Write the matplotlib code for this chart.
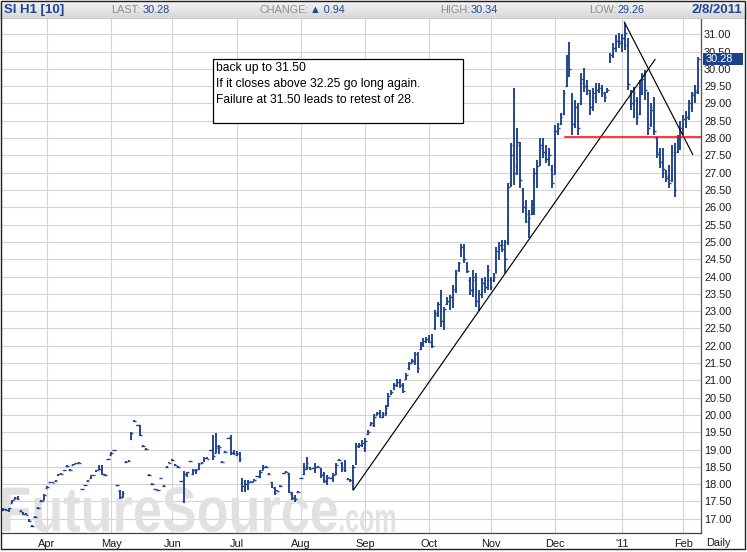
import numpy as np
import pandas as pd
import matplotlib
matplotlib.use("Agg")
import matplotlib.pyplot as plt
from matplotlib.patches import Rectangle, PathPatch
from matplotlib.textpath import TextPath
from matplotlib.font_manager import FontProperties
from matplotlib.colors import LinearSegmentedColormap
from matplotlib.ticker import FormatStrFormatter
from matplotlib.transforms import Affine2D, IdentityTransform, blended_transform_factory

plt.rcParams['font.family'] = ['Liberation Sans', 'DejaVu Sans']

W, H = 747, 552

# daily bars, SI H1 (silver March 2011)
dates = pd.bdate_range('2010-03-11', '2011-02-08')

opens = [
    17.25, 17.28, 17.25, 17.45, 17.58, 17.60, 17.22, 17.18, 17.15, 16.95,
    16.80, 17.05, 17.30, 17.50, 17.55, 17.90, 18.05, 18.05, 18.10, 18.25,
    18.30, 18.40, 18.52, 18.42, 18.55, 18.60, 18.62, 17.85, 17.96, 18.10,
    18.18, 18.25, 18.38, 18.40, 18.50, 18.27, 18.72, 18.85, 18.98, 17.97,
    17.80, 17.62, 18.63, 18.68, 19.30, 19.82, 19.70, 19.70, 19.10, 19.01,
    18.26, 18.00, 17.86, 17.82, 18.17, 17.94, 18.50, 18.62, 18.70, 18.55,
    18.50, 18.09, 17.50, 18.30, 18.66, 18.30, 18.40, 18.45, 18.62, 18.68,
    18.75, 18.98, 19.00, 18.90, 19.05, 18.65, 18.94, 19.32, 19.35, 18.92,
    18.85, 18.88, 18.05, 17.85, 17.90, 18.07, 18.10, 18.22, 18.20, 18.42,
    18.50, 18.30, 18.05, 17.90, 17.80, 17.95, 18.31, 18.36, 18.30, 17.72,
    17.62, 17.78, 18.17, 18.30, 18.50, 18.50, 18.46, 18.45, 18.50, 18.40,
    18.30, 18.12, 18.17, 18.20, 18.30, 18.70, 18.60, 18.50, 18.14, 18.10,
    17.90, 18.60, 19.10, 19.12, 19.05, 19.45, 19.72, 19.70, 20.00, 20.05,
    19.95, 20.00, 20.30, 20.60, 20.75, 20.85, 20.95, 20.85, 21.05, 21.35,
    21.50, 21.60, 21.75, 21.90, 22.05, 22.10, 22.20, 22.10, 22.50, 22.90,
    23.20, 22.70, 23.20, 23.30, 23.40, 23.60, 24.20, 24.60, 24.85, 24.40,
    23.90, 23.60, 23.90, 23.30, 23.50, 23.80, 23.70, 23.90, 23.90, 24.10,
    24.70, 24.90, 24.90, 25.00, 26.70, 27.80, 27.20, 27.80, 26.50, 26.00,
    25.60, 25.80, 25.90, 27.00, 27.30, 27.70, 27.60, 27.40, 27.10, 26.95,
    28.20, 28.40, 28.70, 29.50, 30.20, 29.20, 28.40, 28.90, 29.00, 29.60,
    29.50, 29.30, 28.90, 29.20, 29.40, 29.45, 29.30, 29.35, 30.20, 30.40,
    30.60, 30.80, 30.80, 30.90, 30.70, 29.20, 29.00, 29.10, 28.70, 29.50,
    29.60, 29.30, 28.40, 28.90, 28.00, 27.60, 27.30, 27.00, 26.90, 26.80,
    27.50, 27.60, 27.80, 28.20, 28.50, 28.60, 28.90, 29.30, 29.40,
]

highs = [
    17.30, 17.28, 17.30, 17.55, 17.62, 17.65, 17.24, 17.20, 17.16, 16.98,
    16.82, 17.08, 17.35, 17.55, 17.70, 17.95, 18.06, 18.06, 18.12, 18.30,
    18.32, 18.42, 18.55, 18.44, 18.58, 18.62, 18.64, 17.87, 17.98, 18.12,
    18.27, 18.27, 18.42, 18.55, 18.56, 18.28, 18.74, 18.92, 19.00, 17.98,
    17.84, 17.80, 18.66, 18.70, 19.52, 19.84, 19.72, 19.71, 19.12, 19.03,
    18.28, 18.02, 17.87, 17.84, 18.19, 17.96, 18.52, 18.64, 18.72, 18.57,
    18.52, 18.10, 18.38, 18.36, 18.68, 18.43, 18.45, 18.60, 18.64, 18.77,
    18.77, 19.00, 19.42, 19.49, 19.12, 18.67, 18.96, 19.34, 19.42, 18.98,
    18.95, 18.94, 18.17, 18.12, 18.12, 18.08, 18.14, 18.24, 18.41, 18.55,
    18.52, 18.33, 18.07, 17.93, 17.82, 17.96, 18.33, 18.38, 18.31, 17.78,
    17.69, 17.80, 18.19, 18.60, 18.79, 18.50, 18.48, 18.62, 18.52, 18.46,
    18.36, 18.26, 18.19, 18.31, 18.60, 18.72, 18.65, 18.70, 18.17, 18.15,
    18.55, 19.18, 19.18, 19.27, 19.32, 19.56, 19.80, 20.04, 20.09, 20.14,
    20.09, 20.28, 20.62, 20.72, 20.91, 21.05, 21.05, 20.91, 21.20, 21.54,
    21.63, 21.83, 21.83, 22.11, 22.21, 22.26, 22.31, 22.35, 23.03, 23.27,
    23.61, 23.13, 23.41, 23.46, 23.75, 24.18, 24.43, 24.95, 24.95, 24.43,
    24.00, 24.18, 24.09, 23.61, 23.95, 24.00, 24.33, 23.99, 24.09, 24.86,
    25.01, 25.06, 25.06, 26.69, 27.85, 29.44, 28.28, 27.90, 26.55, 26.21,
    25.92, 26.21, 27.13, 27.37, 27.99, 27.99, 27.80, 27.70, 27.22, 28.38,
    28.45, 28.72, 29.39, 30.40, 30.79, 29.30, 29.10, 29.00, 29.87, 30.02,
    29.68, 29.39, 29.44, 29.58, 29.58, 29.53, 29.34, 29.44, 30.45, 30.74,
    30.98, 31.03, 31.00, 31.32, 30.90, 29.39, 29.49, 29.20, 29.68, 29.87,
    29.97, 29.34, 29.00, 29.20, 28.04, 27.70, 27.70, 27.08, 27.22, 27.80,
    27.85, 28.09, 28.48, 28.67, 28.77, 29.10, 29.34, 29.53, 30.34,
]

lows = [
    17.22, 17.22, 17.20, 17.45, 17.56, 17.55, 17.18, 17.12, 17.10, 16.90,
    16.76, 17.02, 17.28, 17.48, 17.54, 17.88, 18.02, 18.03, 18.08, 18.24,
    18.28, 18.38, 18.50, 18.40, 18.54, 18.58, 18.60, 17.83, 17.94, 18.08,
    18.16, 18.24, 18.36, 18.40, 18.26, 18.24, 18.70, 18.84, 18.96, 17.95,
    17.58, 17.60, 18.62, 18.66, 19.27, 19.80, 19.68, 19.39, 19.08, 18.99,
    18.24, 17.98, 17.83, 17.80, 18.15, 17.92, 18.48, 18.60, 18.68, 18.53,
    18.48, 18.07, 17.44, 18.21, 18.64, 18.26, 18.30, 18.41, 18.60, 18.65,
    18.72, 18.96, 18.70, 18.89, 18.88, 18.63, 18.92, 19.30, 18.84, 18.85,
    18.80, 18.65, 17.78, 17.78, 17.83, 18.05, 18.08, 18.20, 18.17, 18.41,
    18.48, 18.25, 17.88, 17.69, 17.79, 17.93, 18.29, 18.34, 17.74, 17.54,
    17.49, 17.76, 18.15, 18.26, 18.41, 18.41, 18.44, 18.31, 18.48, 18.17,
    18.02, 17.98, 18.15, 18.07, 18.26, 18.68, 18.36, 18.36, 18.12, 18.05,
    17.83, 18.55, 19.03, 19.08, 18.94, 19.42, 19.71, 19.66, 19.99, 19.90,
    19.90, 19.99, 20.24, 20.57, 20.72, 20.81, 20.77, 20.62, 21.01, 21.30,
    21.49, 21.44, 21.20, 21.87, 21.97, 22.07, 22.07, 21.92, 22.45, 22.84,
    22.55, 22.45, 23.17, 23.03, 23.08, 23.51, 24.14, 24.57, 24.38, 24.09,
    23.46, 23.41, 23.13, 22.99, 23.37, 23.52, 23.61, 23.61, 23.85, 24.09,
    24.48, 24.72, 24.10, 24.90, 26.60, 26.65, 26.93, 26.55, 25.83, 25.54,
    25.10, 25.78, 25.78, 26.55, 27.18, 27.42, 27.27, 27.18, 26.55, 26.95,
    28.10, 28.38, 28.67, 29.49, 29.78, 28.09, 28.28, 28.09, 28.96, 29.34,
    29.25, 28.67, 28.77, 29.00, 29.30, 29.20, 29.05, 29.30, 30.16, 30.31,
    30.50, 30.60, 30.50, 30.55, 29.40, 28.81, 28.57, 28.38, 28.67, 29.25,
    29.10, 28.09, 28.33, 28.09, 27.42, 27.13, 26.84, 26.74, 26.55, 26.74,
    26.31, 27.56, 27.66, 28.09, 28.28, 28.52, 28.76, 29.00, 29.26,
]

closes = [
    17.28, 17.25, 17.30, 17.55, 17.60, 17.58, 17.20, 17.15, 17.12, 16.92,
    16.79, 17.06, 17.32, 17.52, 17.68, 17.92, 18.05, 18.04, 18.10, 18.29,
    18.30, 18.40, 18.53, 18.41, 18.57, 18.60, 18.62, 17.85, 17.97, 18.10,
    18.25, 18.26, 18.40, 18.45, 18.30, 18.26, 18.72, 18.90, 18.99, 17.96,
    17.62, 17.75, 18.64, 18.68, 19.48, 19.82, 19.70, 19.42, 19.10, 19.01,
    18.26, 18.00, 17.85, 17.82, 18.17, 17.94, 18.50, 18.62, 18.70, 18.55,
    18.50, 18.09, 18.30, 18.34, 18.67, 18.40, 18.42, 18.58, 18.62, 18.75,
    18.74, 18.98, 18.80, 19.10, 19.08, 18.65, 18.94, 19.32, 18.90, 18.90,
    18.90, 18.72, 17.95, 18.00, 18.05, 18.07, 18.12, 18.22, 18.35, 18.50,
    18.50, 18.28, 17.92, 17.75, 17.81, 17.95, 18.31, 18.36, 17.78, 17.60,
    17.58, 17.78, 18.17, 18.45, 18.60, 18.45, 18.46, 18.50, 18.50, 18.25,
    18.10, 18.20, 18.17, 18.25, 18.55, 18.70, 18.45, 18.40, 18.15, 18.12,
    18.50, 19.10, 19.12, 19.20, 19.25, 19.50, 19.76, 19.95, 20.05, 19.95,
    20.05, 20.20, 20.55, 20.65, 20.85, 20.95, 20.85, 20.70, 21.15, 21.50,
    21.55, 21.75, 21.35, 22.05, 22.15, 22.20, 22.10, 22.00, 22.95, 23.20,
    22.70, 23.05, 23.30, 23.40, 23.65, 24.10, 24.40, 24.85, 24.50, 24.15,
    23.60, 24.00, 23.30, 23.50, 23.80, 23.70, 24.20, 23.70, 24.00, 24.75,
    24.90, 24.80, 24.50, 26.60, 27.50, 27.00, 27.90, 26.80, 26.00, 25.80,
    25.70, 26.10, 27.00, 27.20, 27.80, 27.60, 27.40, 27.50, 26.70, 28.20,
    28.30, 28.60, 29.30, 30.20, 30.00, 28.40, 28.90, 28.30, 29.70, 29.50,
    29.40, 28.90, 29.30, 29.40, 29.45, 29.30, 29.20, 29.40, 30.40, 30.60,
    30.80, 30.75, 30.90, 31.05, 29.55, 29.00, 29.30, 28.60, 29.55, 29.70,
    29.40, 28.30, 28.80, 28.20, 27.55, 27.30, 27.10, 26.85, 26.70, 27.60,
    26.50, 28.00, 28.30, 28.55, 28.60, 29.00, 29.25, 29.34, 30.28,
]

# hand drawn lines on the chart (bar number, price)
up_trend_x = [120, 223.3]
up_trend_y = [17.83, 30.27]
down_trend_x = [212.8, 236.2]
down_trend_y = [31.35, 27.53]
support_start = 192.5
support_level = 28.04

note_lines = [
    "back up to 31.50",
    "If it closes above 32.25 go long again.",
    "Failure at 31.50 leads to retest of 28.",
]

bar_color = '#23468f'
head_blue = '#1e4596'
head_grey = '#8c8c8c'


def fx(x):
    return x / W


def fy(y):
    return 1 - y / H


fig = plt.figure(figsize=(W / 100, H / 100), dpi=100)
fig.patch.set_facecolor('white')

# price panel
ax = fig.add_axes([fx(2), fy(533), 699 / W, 514 / H])
x = np.arange(len(dates))
ax.vlines(x, lows, highs, color=bar_color, lw=1.4, zorder=3)
ax.hlines(opens, x - 0.6, x, color=bar_color, lw=1.0, zorder=3)
ax.hlines(closes, x, x + 0.6, color=bar_color, lw=1.0, zorder=3)

x_right = len(dates) + 0.04
ax.plot(up_trend_x, up_trend_y, color='black', lw=0.85, zorder=4)
ax.plot(down_trend_x, down_trend_y, color='black', lw=0.85, zorder=4)
ax.plot([support_start, x_right], [support_level, support_level], color='#ff0000', lw=1.1, zorder=4)

ax.set_xlim(-0.34, x_right)
ax.set_ylim(16.587, 31.442)

month_idx = [i for i in range(1, len(dates)) if dates[i].month != dates[i - 1].month]
month_lbl = ["'11" if dates[i].month == 1 else dates[i].strftime('%b') for i in month_idx]
ax.set_xticks(month_idx)
ax.set_xticklabels(month_lbl)
ax.set_yticks(np.arange(17, 31.01, 0.5))
ax.yaxis.tick_right()
ax.yaxis.set_major_formatter(FormatStrFormatter('%.2f'))
ax.tick_params(axis='both', length=0, labelsize=7.9, colors='#1a1a1a')
ax.tick_params(axis='y', pad=2.2)
ax.tick_params(axis='x', pad=4.5)
ax.grid(True, color='#d4d4d4', lw=0.8)
ax.set_axisbelow(True)
for side in ['left', 'top']:
    ax.spines[side].set_visible(False)
ax.spines['right'].set_color('#555555')
ax.spines['bottom'].set_color('#444444')
ax.spines['right'].set_linewidth(0.9)
ax.spines['bottom'].set_linewidth(0.9)

# FutureSource watermark, fitted to its pixel box
wm_font = FontProperties(family='Liberation Sans', weight='bold')
for word, (x0, x1, y0, y1) in [("FutureSource", (3, 337, 20, 65)), (".com", (340, 395, 20, 42))]:
    tp = TextPath((0, 0), word, prop=wm_font, size=100)
    ext = tp.get_extents()
    tr = Affine2D().translate(-ext.x0, -ext.y0).scale((x1 - x0) / ext.width, (y1 - y0) / ext.height).translate(x0, y0)
    ax.add_patch(PathPatch(tr.transform_path(tp), transform=IdentityTransform(),
                           fc='#e1e1e1', ec='none', zorder=1))

# last price flag on the axis
bt = blended_transform_factory(ax.transAxes, ax.transData)
ax.add_patch(Rectangle((1.003, closes[-1] - 0.17), 0.057, 0.34, transform=bt,
                       fc='#1d428c', ec='none', clip_on=False, zorder=5))
ax.text(1.0065, closes[-1], f'{closes[-1]:.2f}', transform=bt, color='white', fontsize=7.9,
        va='center', ha='left', clip_on=False, zorder=6)

fig.text(fx(718), fy(543), 'Daily', ha='center', va='center', fontsize=7.9, color='#1a1a1a')

# note box
fig.add_artist(Rectangle((fx(213), fy(123)), 250 / W, 64 / H, transform=fig.transFigure,
                         fc='white', ec='black', lw=0.9, zorder=5))
for k, line in enumerate(note_lines):
    fig.text(fx(216), fy(68 + 16 * k), line, fontsize=8.7, va='center', ha='left', zorder=6)

# header strip
hax = fig.add_axes([0, fy(19), 1, 19 / H])
grad = LinearSegmentedColormap.from_list('hdr', ['#d6d6d6', '#f6f6f6'])
hax.imshow(np.linspace(0, 1, 32)[:, None], cmap=grad, aspect='auto', extent=[0, 1, 0, 1], origin='lower')
hax.axhline(0, color='#9a9a9a', lw=1.0)
hax.axis('off')

change = closes[-1] - closes[-2]
hy = fy(10)
fig.text(fx(4), hy, 'SI H1 [10]', fontsize=9.5, weight='bold', color=head_blue, va='center')
fig.text(fx(111), hy, 'LAST:', fontsize=7.8, color=head_grey, va='center')
fig.text(fx(143), hy, f'{closes[-1]:.2f}', fontsize=7.8, color=head_blue, va='center')
fig.text(fx(260), hy, 'CHANGE:', fontsize=7.8, color=head_grey, va='center')
fig.text(fx(310), hy, f'\u25b2 {change:.2f}', fontsize=7.8, color=head_blue, va='center')
fig.text(fx(440), hy, 'HIGH:', fontsize=7.8, color=head_grey, va='center')
fig.text(fx(471), hy, f'{highs[-1]:.2f}', fontsize=7.8, color=head_blue, va='center')
fig.text(fx(589), hy, 'LOW:', fontsize=7.8, color=head_grey, va='center')
fig.text(fx(618), hy, f'{lows[-1]:.2f}', fontsize=7.8, color=head_blue, va='center')
fig.text(fx(742), hy, f'{dates[-1].month}/{dates[-1].day}/{dates[-1].year}', fontsize=9.5,
         weight='bold', color=head_blue, va='center', ha='right')

# outer frame
fig.add_artist(Rectangle((fx(0.5), fy(548.5)), 744 / W, 548 / H, transform=fig.transFigure,
                         fill=False, ec='#202020', lw=1.0, zorder=10))

fig.savefig('out.png', dpi=100)
